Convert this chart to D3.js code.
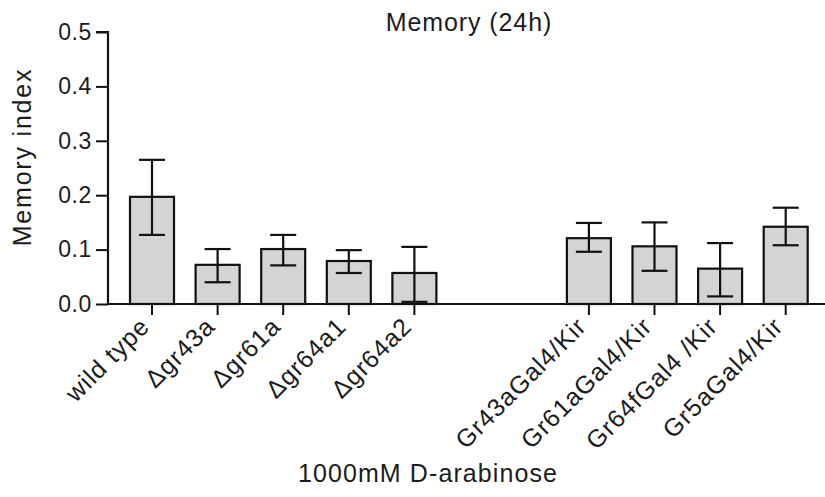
<!DOCTYPE html>
<html>
<head>
<meta charset="utf-8">
<script src="https://cdn.jsdelivr.net/npm/d3@7"></script>
<style>
  html, body { margin: 0; padding: 0; background: #fff; }
  svg { display: block; }
  text { font-family: Arial, "Liberation Sans", sans-serif; fill: #1c1c1c; }
</style>
</head>
<body>
<div id="chart"></div>
<script>
// ---- data ----
const categories = ["wild type", "\u0394gr43a", "\u0394gr61a", "\u0394gr64a1", "\u0394gr64a2",
                    "Gr43aGal4/Kir", "Gr61aGal4/Kir", "Gr64fGal4 /Kir", "Gr5aGal4/Kir"];
const groups     = [0, 0, 0, 0, 0, 1, 1, 1, 1];
const means      = [0.197, 0.072, 0.101, 0.079, 0.057, 0.121, 0.106, 0.065, 0.142];
const errUpper   = [0.265, 0.101, 0.127, 0.099, 0.105, 0.149, 0.150, 0.112, 0.177];
const errLower   = [0.127, 0.040, 0.071, 0.057, 0.004, 0.096, 0.061, 0.014, 0.108];
const yTicks     = [0.0, 0.1, 0.2, 0.3, 0.4, 0.5];
const titleText  = "Memory (24h)";
const yLabelText = "Memory index";
const xLabelText = "1000mM D-arabinose";

// ---- layout ----
const W = 825, H = 497;
const groupGap = 1.66;
const slotPos = categories.map((c, i) => i + groups[i] * groupGap);

const svg = d3.select("#chart").append("svg").attr("width", W).attr("height", H);

const y = d3.scaleLinear().domain([0, 0.5]).range([304, 32]);
const x = d3.scaleLinear().domain([0, d3.max(slotPos)]).range([152, 152 + d3.max(slotPos) * 65.6]);
const barW = 44, capW = 26;
const axisX = 108;

// bars
svg.append("g").selectAll("rect").data(categories).join("rect")
  .attr("x", (d, i) => x(slotPos[i]) - barW / 2)
  .attr("y", (d, i) => y(means[i]))
  .attr("width", barW)
  .attr("height", (d, i) => y(0) - y(means[i]))
  .attr("fill", "#d4d4d4")
  .attr("stroke", "#111")
  .attr("stroke-width", 2.2);

// error bars
const eb = svg.append("g").attr("stroke", "#111").attr("stroke-width", 2.2);
categories.forEach((c, i) => {
  const cx = x(slotPos[i]);
  eb.append("line").attr("x1", cx).attr("x2", cx).attr("y1", y(errUpper[i])).attr("y2", y(errLower[i]));
  eb.append("line").attr("x1", cx - capW / 2).attr("x2", cx + capW / 2).attr("y1", y(errUpper[i])).attr("y2", y(errUpper[i]));
  eb.append("line").attr("x1", cx - capW / 2).attr("x2", cx + capW / 2).attr("y1", y(errLower[i])).attr("y2", y(errLower[i]));
});

// y axis
const yAxis = d3.axisLeft(y).tickValues(yTicks).tickFormat(d3.format(".1f")).tickSize(12).tickPadding(4);
const gy = svg.append("g").attr("transform", `translate(${axisX},0)`).call(yAxis);
gy.select(".domain").attr("stroke", "#111").attr("stroke-width", 2.2).attr("d", `M-12,${y(0.5)}H0V${y(0)}`);
gy.selectAll(".tick line").attr("stroke", "#111").attr("stroke-width", 2);
gy.selectAll(".tick text").attr("font-size", 23).attr("letter-spacing", 0.6).attr("fill", "#1c1c1c")
  .style("font-family", "Arial, 'Liberation Sans', sans-serif");

// x axis line
svg.append("line").attr("x1", axisX - 1).attr("x2", W).attr("y1", y(0)).attr("y2", y(0))
  .attr("stroke", "#111").attr("stroke-width", 2.2);

// x ticks and labels
const gx = svg.append("g");
categories.forEach((c, i) => {
  const cx = x(slotPos[i]);
  gx.append("line").attr("x1", cx).attr("x2", cx).attr("y1", y(0)).attr("y2", y(0) + 11)
    .attr("stroke", "#111").attr("stroke-width", 2);
  gx.append("text")
    .attr("transform", `translate(${cx - 1},${y(0) + 24}) rotate(-45)`)
    .attr("text-anchor", "end")
    .attr("font-size", 25)
    .attr("letter-spacing", 1)
    .text(c);
});

// title
svg.append("text").attr("x", 469).attr("y", 31).attr("text-anchor", "middle")
  .attr("font-size", 25).attr("letter-spacing", 0.9).text(titleText);

// y label
svg.append("text").attr("transform", "translate(31,157) rotate(-90)").attr("text-anchor", "middle")
  .attr("font-size", 25).attr("letter-spacing", 1.8).text(yLabelText);

// x label
svg.append("text").attr("x", 428).attr("y", 482).attr("text-anchor", "middle")
  .attr("font-size", 25).attr("letter-spacing", 1.1).text(xLabelText);
</script>
</body>
</html>
